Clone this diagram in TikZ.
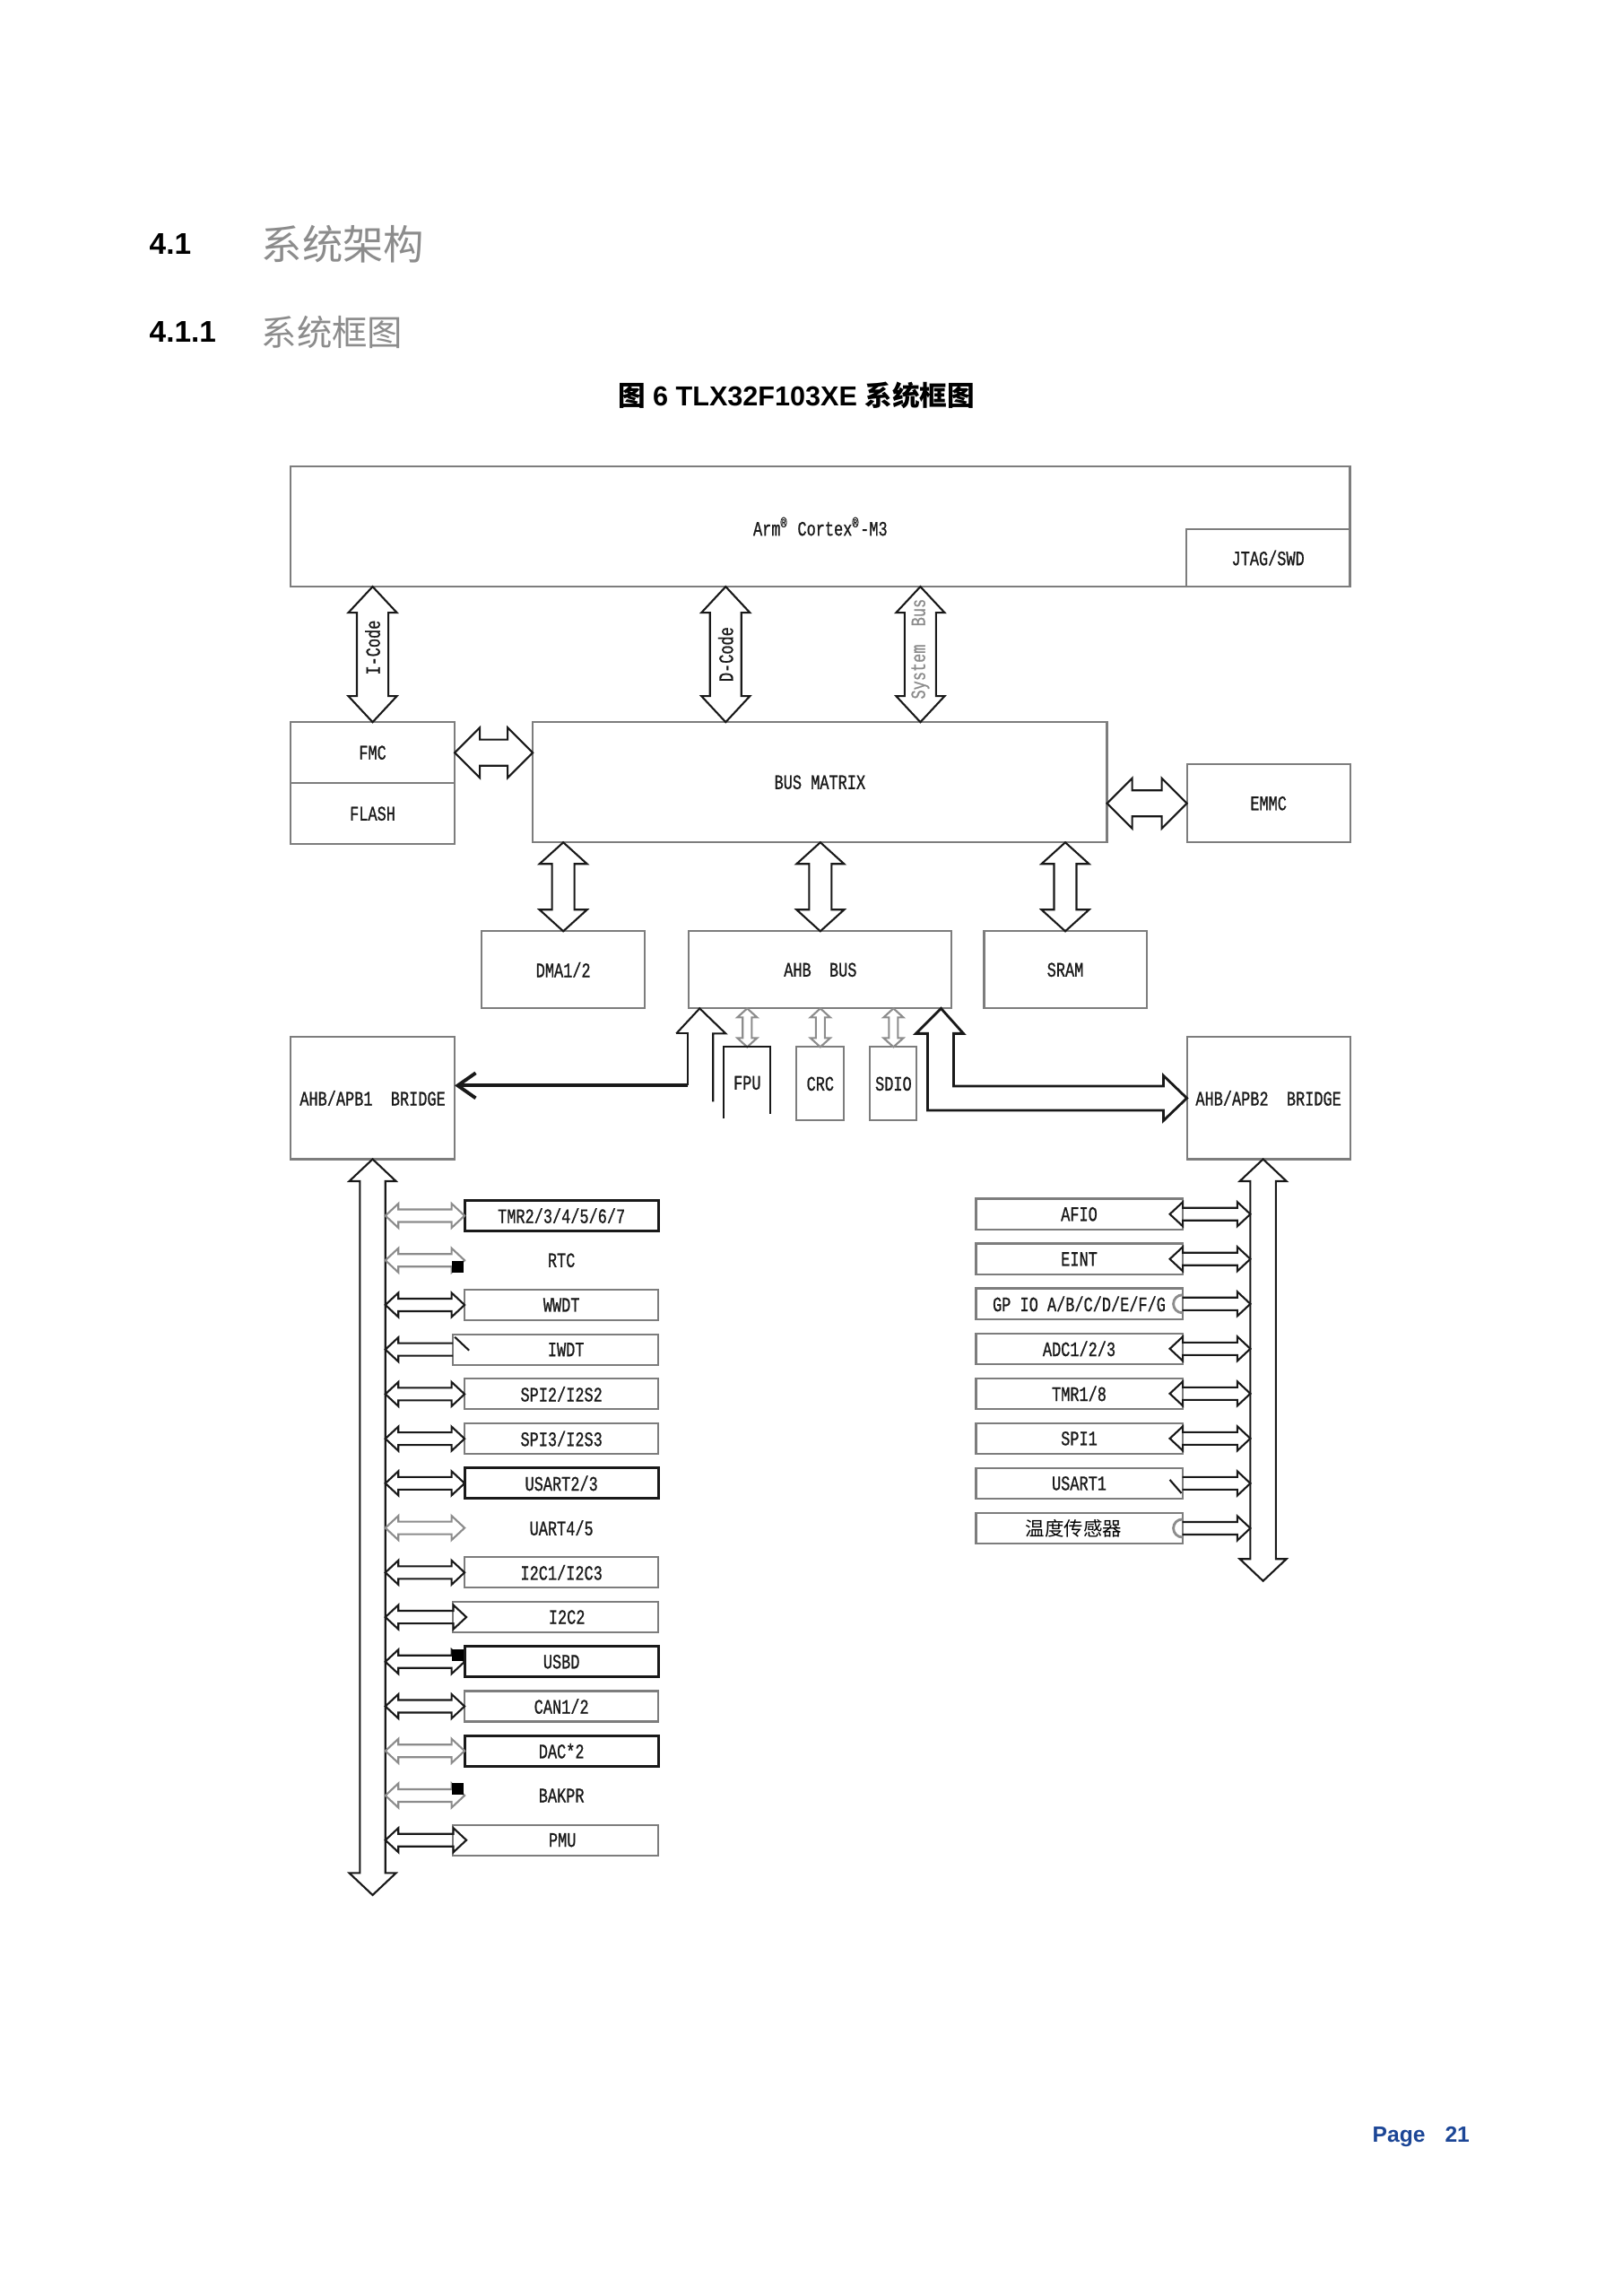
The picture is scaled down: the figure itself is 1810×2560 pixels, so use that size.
\documentclass[tikz,border=0pt]{standalone}
\usepackage{fontspec}
\setmainfont{Liberation Sans}
\newfontfamily\diagfont{Liberation Mono}[FakeStretch=0.74,FakeBold=0.8]
\newfontfamily\cjkfont{Noto Sans CJK SC}
\usepackage{xcolor}
\definecolor{HeadGray}{RGB}{140,140,140}
\definecolor{PageBlue}{RGB}{28,70,150}
\definecolor{LineGray}{RGB}{125,125,125}
\definecolor{InkBlack}{RGB}{25,25,25}
\colorlet{FadeInk}{black!45}
\usepackage{tikz}
\usetikzlibrary{
    arrows.meta,
    positioning,
    calc
}

\begin{document}
\begin{tikzpicture}[
    x=0.01cm,
    y=-0.01cm,
    box/.style={
        draw=LineGray,
        line width=0.6pt,
        inner sep=0pt,
        outer sep=0pt,
        align=center,
        text=InkBlack,
        font=\diagfont\fontsize{6.5}{7}\selectfont
    },
    thickbox/.style={
        box,
        draw=InkBlack,
        line width=0.9pt
    },
    leftrow/.style={
        box,
        minimum width=2.16cm,
        minimum height=0.34cm
    },
    rightrow/.style={
        box,
        minimum width=2.30cm,
        minimum height=0.345cm
    },
    nextleft/.style={
        below=0.157cm of #1.south east,
        anchor=north east
    },
    nextright/.style={
        below=0.155cm of #1.south east,
        anchor=north east
    },
    rotlabel/.style={
        rotate=90,
        inner sep=0pt,
        text=InkBlack,
        font=\diagfont\fontsize{6.5}{7}\selectfont
    },
    blockarrow/.style args={#1/#2/#3}{
        draw=InkBlack,
        line width=0.6pt,
        to path={
            -- ($(\tikztostart)!#3!(\tikztotarget)!#1!90:(\tikztotarget)$)
            -- ($(\tikztostart)!#3!(\tikztotarget)!#2!90:(\tikztotarget)$)
            -- ($(\tikztotarget)!#3!(\tikztostart)!#2!-90:(\tikztostart)$)
            -- ($(\tikztotarget)!#3!(\tikztostart)!#1!-90:(\tikztostart)$)
            -- (\tikztotarget)
            -- ($(\tikztotarget)!#3!(\tikztostart)!#1!90:(\tikztostart)$)
            -- ($(\tikztotarget)!#3!(\tikztostart)!#2!90:(\tikztostart)$)
            -- ($(\tikztostart)!#3!(\tikztotarget)!#2!-90:(\tikztotarget)$)
            -- ($(\tikztostart)!#3!(\tikztotarget)!#1!-90:(\tikztotarget)$)
            -- cycle
        }
    },
    halfarrow/.style args={#1/#2/#3}{
        draw=InkBlack,
        line width=0.6pt,
        to path={
            ($(\tikztostart)!#2!90:(\tikztotarget)$)
            -- ($(\tikztotarget)!#3!(\tikztostart)!#2!-90:(\tikztostart)$)
            -- ($(\tikztotarget)!#3!(\tikztostart)!#1!-90:(\tikztostart)$)
            -- (\tikztotarget)
            -- ($(\tikztotarget)!#3!(\tikztostart)!#1!90:(\tikztostart)$)
            -- ($(\tikztotarget)!#3!(\tikztostart)!#2!90:(\tikztostart)$)
            -- ($(\tikztostart)!#2!-90:(\tikztotarget)$)
        }
    },
    corebus/.style={blockarrow=0.27cm/0.175cm/0.29cm},
    sidebus/.style={blockarrow=0.28cm/0.145cm/0.28cm},
    dropbus/.style={blockarrow=0.265cm/0.125cm/0.24cm},
    minibus/.style={blockarrow=0.11cm/0.05cm/0.10cm, draw=FadeInk},
    busbar/.style={blockarrow=0.26cm/0.142cm/0.245cm},
    tap/.style={blockarrow=0.135cm/0.07cm/0.145cm},
    halftap/.style={halfarrow=0.135cm/0.07cm/0.145cm},
    headnum/.style={
        anchor=west,
        inner sep=0pt,
        font=\bfseries\fontsize{9.5}{11}\selectfont
    },
    headtitle/.style={
        anchor=west,
        inner sep=0pt,
        text=HeadGray,
        font=\cjkfont\fontsize{#1}{14}\selectfont
    }
]
%
\fill[white] (0,0) rectangle (1810,2560);
\useasboundingbox (0,0) rectangle (1810,2560);
%
% headings
\node[headnum] (sec) at (166,272) {4.1};
\node[headtitle=12.9] (sectitle) at (291,272) {系统架构};
\node[headnum] (subsec) at (166,370) {4.1.1};
\node[headtitle=11.2] (subsectitle) at (291,370) {系统框图};
\node[
    inner sep=0pt,
    font=\bfseries\fontsize{8.7}{10}\selectfont
] (caption) at (888,441) {%
    {\cjkfont\bfseries 图} 6 TLX32F103XE {\cjkfont\bfseries 系统框图}%
};
%
% core and bus matrix
\node[
    box,
    line width=0.8pt,
    minimum width=11.81cm,
    minimum height=1.34cm,
    anchor=north west
] (cpu) at (324,520) {Arm\textsuperscript{®} Cortex\textsuperscript{®}-M3};
%
\node[box, minimum width=1.83cm, minimum height=0.64cm, anchor=south east]
    (jtag) at (cpu.south east) {JTAG/SWD};
%
\node[box, minimum width=1.83cm, minimum height=0.68cm,
    below=1.51cm of cpu.south west, anchor=north west] (fmc) {FMC};
\node[box, minimum width=1.83cm, minimum height=0.68cm,
    below=0cm of fmc] (flash) {FLASH};
%
\node[box, minimum width=6.40cm, minimum height=1.34cm,
    right=0.87cm of fmc.north east, anchor=north west] (busmatrix) {BUS MATRIX};
%
\node[box, minimum width=1.82cm, minimum height=0.87cm,
    right=0.89cm of busmatrix.south east, anchor=south west] (emmc) {EMMC};
%
\node[box, minimum width=1.82cm, minimum height=0.86cm,
    below=0.99cm of busmatrix.south west, anchor=north west, xshift=-0.57cm] (dma) {DMA1/2};
\node[box, minimum width=2.93cm, minimum height=0.86cm,
    right=0.49cm of dma] (ahb) {AHB\ \ BUS};
\node[box, minimum width=1.81cm, minimum height=0.86cm,
    right=0.36cm of ahb] (sram) {SRAM};
%
\node[box, minimum width=0.53cm, minimum height=0.82cm,
    below=0.43cm of ahb] (crc) {CRC};
\node[box, draw=none, minimum width=0.52cm, minimum height=0.80cm,
    left=0.29cm of crc.north west, anchor=north east] (fpu) {FPU};
\node[box, minimum width=0.52cm, minimum height=0.82cm,
    right=0.29cm of crc] (sdio) {SDIO};
%
\node[box, minimum width=1.83cm, minimum height=1.36cm,
    below=2.15cm of flash.south west, anchor=north west] (apb1) {AHB/APB1\ \ BRIDGE};
\node[box, minimum width=1.82cm, minimum height=1.36cm,
    below=2.17cm of emmc.south west, anchor=north west] (apb2) {AHB/APB2\ \ BRIDGE};
%
% APB1 peripherals
\node[leftrow, thickbox, below=0.46cm of apb1.south east, anchor=north west,
    xshift=0.11cm] (tmr) {TMR2/3/4/5/6/7};
\node[leftrow, draw=none, nextleft=tmr] (rtc) {RTC};
\node[leftrow, nextleft=rtc] (wwdt) {WWDT};
\node[leftrow, minimum width=2.29cm, nextleft=wwdt] (iwdt) {\hspace*{0.23cm}IWDT};
\node[leftrow, nextleft=iwdt] (spi2) {SPI2/I2S2};
\node[leftrow, nextleft=spi2] (spi3) {SPI3/I2S3};
\node[leftrow, thickbox, nextleft=spi3] (usart23) {USART2/3};
\node[leftrow, draw=none, nextleft=usart23] (uart45) {UART4/5};
\node[leftrow, nextleft=uart45] (i2c13) {I2C1/I2C3};
\node[leftrow, minimum width=2.29cm, nextleft=i2c13] (i2c2) {\hspace*{0.25cm}I2C2};
\node[leftrow, thickbox, nextleft=i2c2] (usbd) {USBD};
\node[leftrow, nextleft=usbd] (can) {CAN1/2};
\node[leftrow, thickbox, nextleft=can] (dac) {DAC*2};
\node[leftrow, draw=none, nextleft=dac] (bakpr) {BAKPR};
\node[leftrow, minimum width=2.29cm, nextleft=bakpr] (pmu) {\hspace*{0.15cm}PMU};
%
% APB2 peripherals
\node[rightrow, below=0.44cm of apb2.south west, anchor=north east,
    xshift=-0.05cm] (afio) {AFIO};
\node[rightrow, nextright=afio] (eint) {EINT};
\node[rightrow, nextright=eint] (gpio) {GP IO A/B/C/D/E/F/G};
\node[rightrow, nextright=gpio] (adc) {ADC1/2/3};
\node[rightrow, nextright=adc] (tmr18) {TMR1/8};
\node[rightrow, nextright=tmr18] (spi1) {SPI1};
\node[rightrow, nextright=spi1] (usart1) {USART1};
\node[rightrow, nextright=usart1, draw=LineGray, line width=0.6pt, text=black,
    font=\cjkfont\fontsize{6.1}{7}\selectfont] (temp) {\hspace*{-0.12cm}温度传感器};
%
% core buses
\coordinate (icode) at (cpu.south -| fmc.north);
\coordinate (dcode) at ([xshift=2.15cm]busmatrix.north west);
\coordinate (dtop) at (cpu.south -| dcode);
\coordinate (sbus) at ([xshift=4.32cm]busmatrix.north west);
\coordinate (stop) at (cpu.south -| sbus);
\draw[corebus] (icode) to (fmc.north);
\draw[corebus] (dtop) to (dcode);
\draw[corebus] (stop) to (sbus);
\node[rotlabel] (icodetxt) at ($(icode)!0.45!(fmc.north)$) {I-Code};
\node[rotlabel] (dcodetxt) at ($(dtop)!0.5!(dcode)$) {D-Code};
\node[rotlabel, text=FadeInk, xshift=0.06cm] (sbustxt) at ($(stop)!0.5!(sbus)$) {System\ \ Bus};
%
\coordinate (fmcm) at (fmc.east -| busmatrix.west);
\coordinate (emmcm) at (busmatrix.east |- emmc.west);
\draw[sidebus] (fmc.east) to (fmcm);
\draw[sidebus] (emmcm) to (emmc.west);
%
\coordinate (dmam) at (busmatrix.south -| dma.north);
\coordinate (ahbm) at (busmatrix.south -| ahb.north);
\coordinate (sramm) at (busmatrix.south -| sram.north);
\draw[dropbus] (dmam) to (dma.north);
\draw[dropbus] (ahbm) to (ahb.north);
\draw[dropbus] (sramm) to (sram.north);
%
\coordinate (fpum) at (ahb.south -| fpu.north);
\coordinate (crcm) at (ahb.south -| crc.north);
\coordinate (sdiom) at (ahb.south -| sdio.north);
\draw[minibus] (fpum) to (fpu.north);
\draw[minibus] (crcm) to (crc.north);
\draw[minibus] (sdiom) to (sdio.north);
\draw[draw=InkBlack, line width=0.6pt]
    (fpu.south west) -- (fpu.north west) -- (fpu.north east) -- ([yshift=0.05cm]fpu.south east);
%
% AHB to the two bridges
\coordinate (ltip) at ([xshift=0.12cm]ahb.south west);
\draw[draw=InkBlack, line width=0.6pt]
    (ltip) ++(-26,28) -- (ltip) -- ++(29,28) -- ++(-14,0) -- ++(0,76);
\draw[draw=InkBlack, line width=0.6pt]
    (ltip) ++(-26,28) -- ++(13,0) -- ++(0,58) coordinate (lbend);
\draw[
    -{Straight Barb[length=0.2cm, width=0.28cm]},
    draw=InkBlack,
    line width=1.1pt
] (lbend) -- (apb1.east |- lbend);
%
\coordinate (rtip) at ([xshift=-0.12cm]ahb.south east);
\coordinate (rhead) at ([xshift=-0.26cm]apb2.west);
\draw[draw=InkBlack, line width=0.8pt]
    (rtip)
    -- ++(25,28)
    -- ++(-11,0)
    |- ([yshift=0.135cm]rhead)
    -- ([yshift=0.25cm]rhead)
    -- (apb2.west)
    -- ([yshift=-0.25cm]rhead)
    -- ([yshift=-0.135cm]rhead)
    -| ([xshift=-0.15cm, yshift=-0.28cm]rtip)
    -- ++(-13,0)
    -- cycle;
%
% APB buses
\coordinate (apb1end) at ([yshift=-8.2cm]apb1.south);
\coordinate (lbus) at ([xshift=0.142cm]apb1.south);
\draw[busbar] (apb1.south) to (apb1end);
%
\coordinate (apb2top) at ([xshift=-0.06cm]apb2.south);
\coordinate (apb2end) at ([yshift=-4.7cm]apb2top);
\coordinate (rbus) at ([xshift=-0.142cm]apb2top);
\draw[busbar] (apb2top) to (apb2end);
%
% APB1 taps
\draw[tap, draw=FadeInk] (lbus |- tmr.west) to (tmr.west);
\draw[tap, draw=FadeInk] (lbus |- rtc.west) to (rtc.west);
\draw[tap] (lbus |- wwdt.west) to (wwdt.west);
\draw[halftap] (iwdt.west) to (lbus |- iwdt.west);
\draw[tap] (lbus |- spi2.west) to (spi2.west);
\draw[tap] (lbus |- spi3.west) to (spi3.west);
\draw[tap] (lbus |- usart23.west) to (usart23.west);
\draw[tap, draw=FadeInk] (lbus |- uart45.west) to (uart45.west);
\draw[tap] (lbus |- i2c13.west) to (i2c13.west);
\draw[tap] (lbus |- i2c2.west) to ([xshift=0.15cm]i2c2.west);
\draw[tap] (lbus |- usbd.west) to (usbd.west);
\draw[tap] (lbus |- can.west) to (can.west);
\draw[tap, draw=FadeInk] (lbus |- dac.west) to (dac.west);
\draw[tap, draw=FadeInk] (lbus |- bakpr.west) to (bakpr.west);
\draw[tap] (lbus |- pmu.west) to ([xshift=0.15cm]pmu.west);
%
\node[fill=black, inner sep=0pt, minimum size=0.13cm, anchor=north east] (rtcsq) at (rtc.west) {};
\node[fill=black, inner sep=0pt, minimum size=0.13cm, anchor=south east] (usbsq) at (usbd.west) {};
\node[fill=black, inner sep=0pt, minimum size=0.13cm, anchor=south east] (baksq) at (bakpr.west) {};
\draw[draw=InkBlack, line width=0.6pt]
    ([xshift=0.02cm, yshift=-0.03cm]iwdt.north west) -- ++(16,15);
%
% APB2 taps
\draw[tap] ([xshift=-0.14cm]afio.east) to (rbus |- afio.east);
\draw[tap] ([xshift=-0.14cm]eint.east) to (rbus |- eint.east);
\draw[halftap] (gpio.east) to (rbus |- gpio.east);
\draw[tap] ([xshift=-0.14cm]adc.east) to (rbus |- adc.east);
\draw[tap] ([xshift=-0.14cm]tmr18.east) to (rbus |- tmr18.east);
\draw[tap] ([xshift=-0.14cm]spi1.east) to (rbus |- spi1.east);
\draw[halftap] (usart1.east) to (rbus |- usart1.east);
\draw[halftap] (temp.east) to (rbus |- temp.east);
\draw[draw=InkBlack, line width=0.6pt]
    ([xshift=-0.14cm, yshift=0.04cm]usart1.east) -- ++(13,15);
\draw[draw=FadeInk, line width=0.8pt]
    ([yshift=0.1cm]gpio.east) arc[start angle=90, end angle=270, radius=0.1cm];
\draw[draw=FadeInk, line width=0.8pt]
    ([yshift=0.1cm]temp.east) arc[start angle=90, end angle=270, radius=0.1cm];
%
% page number
\node[
    anchor=west,
    inner sep=0pt,
    text=PageBlue,
    font=\bfseries\fontsize{7}{9}\selectfont
] (page) at (1530,2382) {Page\hspace{0.22cm}21};
%
\end{tikzpicture}
\end{document}
